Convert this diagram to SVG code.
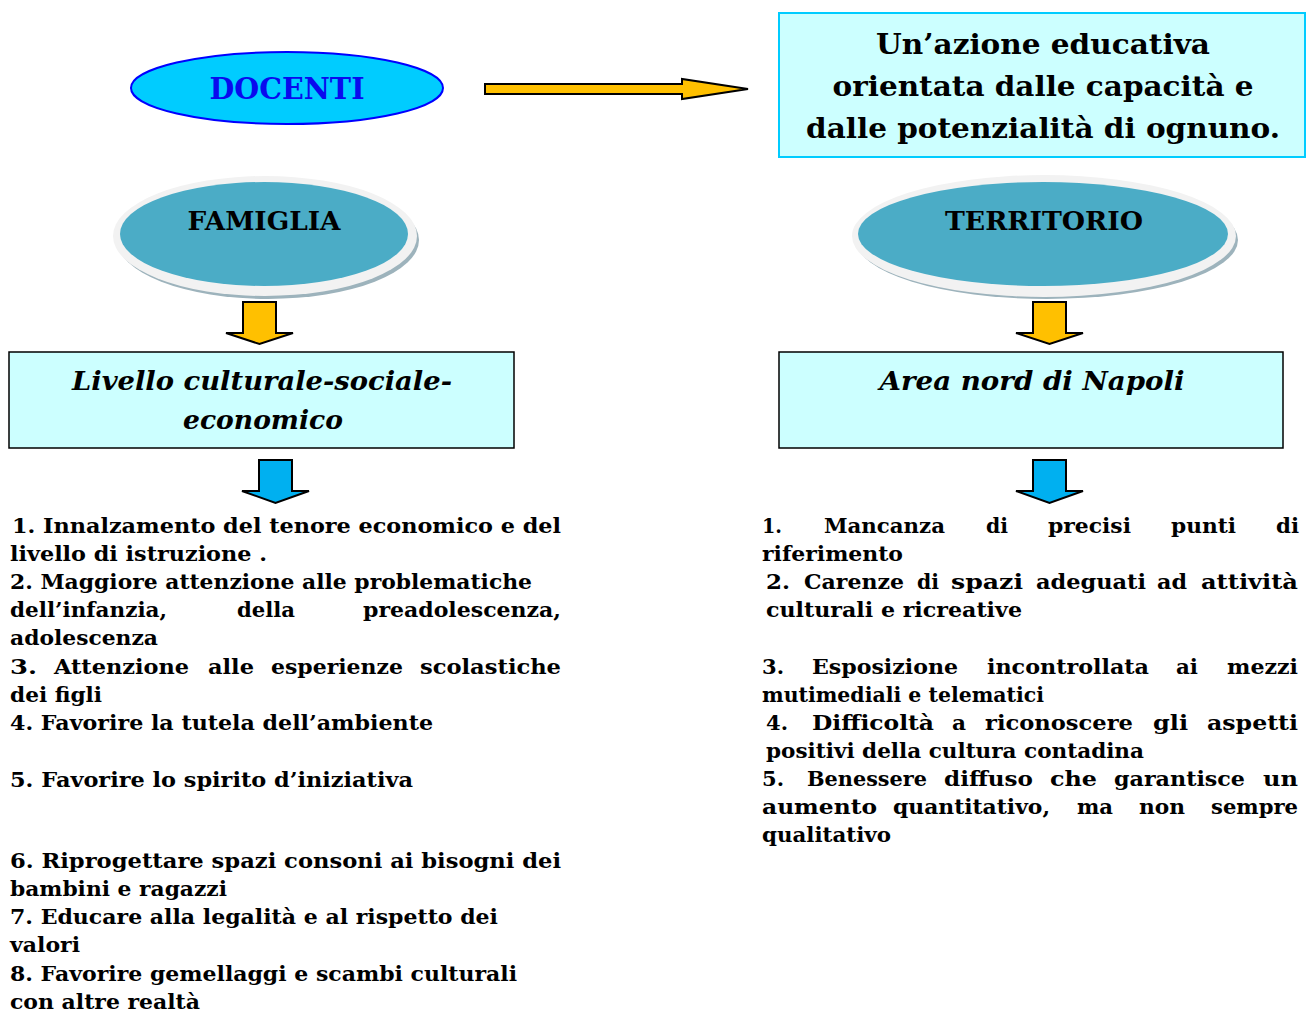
<svg xmlns="http://www.w3.org/2000/svg" width="1306" height="1015" viewBox="0 0 1306 1015">
<style>
text{font-family:"DejaVu Serif","Liberation Serif",serif;font-weight:bold;fill:#000}
.li{font-size:21px}
.hd{font-size:26px}
.it{font-size:26px;font-style:italic}
.box{fill:#CCFFFF;stroke:#000;stroke-width:1.5}
.ya{fill:#FFC000;stroke:#000;stroke-width:2;stroke-linejoin:miter}
.ba{fill:#00B0F0;stroke:#000;stroke-width:2}
.rim{fill:#F2F2F2}
.shd{fill:#9DB3BC}
.core{fill:#4BACC6}
</style>
<rect width="1306" height="1015" fill="#fff"/>

<g id="docenti">
<ellipse cx="287" cy="88" rx="156" ry="36" fill="#00CCFF" stroke="#0000FF" stroke-width="2"/>
<text x="287" y="99" text-anchor="middle" font-size="29" style="fill:#0A0AEE" textLength="155" lengthAdjust="spacingAndGlyphs">DOCENTI</text>
</g>

<g id="obiettivo">
<rect x="779" y="13" width="526" height="144" fill="#CCFFFF" stroke="#00CCFF" stroke-width="2"/>
<text x="1043" y="54" text-anchor="middle" font-size="28" textLength="334" lengthAdjust="spacingAndGlyphs">Un’azione educativa</text>
<text x="1043" y="96" text-anchor="middle" font-size="28" textLength="421" lengthAdjust="spacingAndGlyphs">orientata dalle capacità e</text>
<text x="1043" y="138" text-anchor="middle" font-size="28" textLength="474" lengthAdjust="spacingAndGlyphs">dalle potenzialità di ognuno.</text>
</g>

<g id="famiglia">
<ellipse class="shd" cx="268" cy="240" rx="151" ry="59"/>
<ellipse class="rim" cx="265" cy="236" rx="152" ry="60"/>
<ellipse class="core" cx="264" cy="234" rx="144" ry="52"/>
<text class="hd" x="264" y="230" text-anchor="middle" textLength="153" lengthAdjust="spacingAndGlyphs">FAMIGLIA</text>
</g>

<g id="territorio">
<ellipse class="shd" cx="1047" cy="240" rx="191" ry="59"/>
<ellipse class="rim" cx="1044" cy="236" rx="192" ry="61"/>
<ellipse class="core" cx="1043" cy="234" rx="185" ry="52"/>
<text class="hd" x="1044" y="230" text-anchor="middle" textLength="198" lengthAdjust="spacingAndGlyphs">TERRITORIO</text>
</g>

<g id="livello">
<rect class="box" x="9" y="352" width="505" height="96"/>
<text class="it" x="262" y="390" text-anchor="middle" textLength="380" lengthAdjust="spacingAndGlyphs">Livello culturale-sociale-</text>
<text class="it" x="263" y="429" text-anchor="middle" textLength="160" lengthAdjust="spacingAndGlyphs">economico</text>
</g>

<g id="area">
<rect class="box" x="779" y="352" width="504" height="96"/>
<text class="it" x="1032" y="390" text-anchor="middle" textLength="305" lengthAdjust="spacingAndGlyphs">Area nord di Napoli</text>
</g>

<g id="connectors">
<polygon class="ya" points="485,84 682,84 682,79 748,89 682,99 682,94 485,94"/>
<polygon class="ya" points="243,302 276,302 276,333 293,333 259.5,344 226,333 243,333"/>
<polygon class="ya" points="1033,302 1066,302 1066,333 1083,333 1049.5,344 1016,333 1033,333"/>
<polygon class="ba" points="259,460 292,460 292,491 309,491 275.5,503 242,491 259,491"/>
<polygon class="ba" points="1033,460 1066,460 1066,491 1083,491 1049.5,503 1016,491 1033,491"/>
</g>

<g id="lista-famiglia" class="li">
<text x="12" y="533" textLength="549" lengthAdjust="spacingAndGlyphs">1. Innalzamento del tenore economico e del</text>
<text x="10" y="561" textLength="257" lengthAdjust="spacingAndGlyphs">livello di istruzione .</text>
<text x="10" y="589" textLength="522" lengthAdjust="spacingAndGlyphs">2. Maggiore attenzione alle problematiche</text>
<text y="617"><tspan x="10" textLength="157" lengthAdjust="spacingAndGlyphs">dell’infanzia,</tspan><tspan x="237" textLength="58" lengthAdjust="spacingAndGlyphs">della</tspan><tspan x="363" textLength="198" lengthAdjust="spacingAndGlyphs">preadolescenza,</tspan></text>
<text x="10" y="645" textLength="148" lengthAdjust="spacingAndGlyphs">adolescenza</text>
<text y="674"><tspan x="10" textLength="27" lengthAdjust="spacingAndGlyphs">3.</tspan><tspan x="54" textLength="135" lengthAdjust="spacingAndGlyphs">Attenzione</tspan><tspan x="208" textLength="46" lengthAdjust="spacingAndGlyphs">alle</tspan><tspan x="271" textLength="132" lengthAdjust="spacingAndGlyphs">esperienze</tspan><tspan x="420" textLength="141" lengthAdjust="spacingAndGlyphs">scolastiche</tspan></text>
<text x="10" y="702" textLength="92" lengthAdjust="spacingAndGlyphs">dei figli</text>
<text x="10" y="730" textLength="423" lengthAdjust="spacingAndGlyphs">4. Favorire la tutela dell’ambiente</text>
<text x="10" y="787" textLength="403" lengthAdjust="spacingAndGlyphs">5. Favorire lo spirito d’iniziativa</text>
<text x="10" y="868" textLength="551" lengthAdjust="spacingAndGlyphs">6. Riprogettare spazi consoni ai bisogni dei</text>
<text x="10" y="896" textLength="217" lengthAdjust="spacingAndGlyphs">bambini e ragazzi</text>
<text x="10" y="924" textLength="488" lengthAdjust="spacingAndGlyphs">7. Educare alla legalità e al rispetto dei</text>
<text x="10" y="952" textLength="70" lengthAdjust="spacingAndGlyphs">valori</text>
<text x="10" y="981" textLength="507" lengthAdjust="spacingAndGlyphs">8. Favorire gemellaggi e scambi culturali</text>
<text x="10" y="1009" textLength="190" lengthAdjust="spacingAndGlyphs">con altre realtà</text>
</g>

<g id="lista-territorio" class="li">
<text y="533"><tspan x="762" textLength="20" lengthAdjust="spacingAndGlyphs">1.</tspan><tspan x="824" textLength="121" lengthAdjust="spacingAndGlyphs">Mancanza</tspan><tspan x="986" textLength="22" lengthAdjust="spacingAndGlyphs">di</tspan><tspan x="1048" textLength="83" lengthAdjust="spacingAndGlyphs">precisi</tspan><tspan x="1171" textLength="65" lengthAdjust="spacingAndGlyphs">punti</tspan><tspan x="1276" textLength="23" lengthAdjust="spacingAndGlyphs">di</tspan></text>
<text x="762" y="561" textLength="141" lengthAdjust="spacingAndGlyphs">riferimento</text>
<text y="589"><tspan x="766" textLength="24" lengthAdjust="spacingAndGlyphs">2.</tspan><tspan x="804" textLength="100" lengthAdjust="spacingAndGlyphs">Carenze</tspan><tspan x="917" textLength="22" lengthAdjust="spacingAndGlyphs">di</tspan><tspan x="951" textLength="72" lengthAdjust="spacingAndGlyphs">spazi</tspan><tspan x="1036" textLength="110" lengthAdjust="spacingAndGlyphs">adeguati</tspan><tspan x="1157" textLength="30" lengthAdjust="spacingAndGlyphs">ad</tspan><tspan x="1201" textLength="97" lengthAdjust="spacingAndGlyphs">attività</tspan></text>
<text x="766" y="617" textLength="256" lengthAdjust="spacingAndGlyphs">culturali e ricreative</text>
<text y="674"><tspan x="762" textLength="22" lengthAdjust="spacingAndGlyphs">3.</tspan><tspan x="812" textLength="146" lengthAdjust="spacingAndGlyphs">Esposizione</tspan><tspan x="987" textLength="162" lengthAdjust="spacingAndGlyphs">incontrollata</tspan><tspan x="1176" textLength="22" lengthAdjust="spacingAndGlyphs">ai</tspan><tspan x="1227" textLength="71" lengthAdjust="spacingAndGlyphs">mezzi</tspan></text>
<text x="762" y="702" textLength="282" lengthAdjust="spacingAndGlyphs">mutimediali e telematici</text>
<text y="730"><tspan x="766" textLength="22" lengthAdjust="spacingAndGlyphs">4.</tspan><tspan x="812" textLength="122" lengthAdjust="spacingAndGlyphs">Difficoltà</tspan><tspan x="952" textLength="14" lengthAdjust="spacingAndGlyphs">a</tspan><tspan x="985" textLength="148" lengthAdjust="spacingAndGlyphs">riconoscere</tspan><tspan x="1153" textLength="35" lengthAdjust="spacingAndGlyphs">gli</tspan><tspan x="1207" textLength="91" lengthAdjust="spacingAndGlyphs">aspetti</tspan></text>
<text x="766" y="758" textLength="378" lengthAdjust="spacingAndGlyphs">positivi della cultura contadina</text>
<text y="786"><tspan x="762" textLength="22" lengthAdjust="spacingAndGlyphs">5.</tspan><tspan x="807" textLength="120" lengthAdjust="spacingAndGlyphs">Benessere</tspan><tspan x="944" textLength="89" lengthAdjust="spacingAndGlyphs">diffuso</tspan><tspan x="1050" textLength="47" lengthAdjust="spacingAndGlyphs">che</tspan><tspan x="1114" textLength="131" lengthAdjust="spacingAndGlyphs">garantisce</tspan><tspan x="1263" textLength="35" lengthAdjust="spacingAndGlyphs">un</tspan></text>
<text y="814"><tspan x="762" textLength="115" lengthAdjust="spacingAndGlyphs">aumento</tspan><tspan x="893" textLength="157" lengthAdjust="spacingAndGlyphs">quantitativo,</tspan><tspan x="1077" textLength="36" lengthAdjust="spacingAndGlyphs">ma</tspan><tspan x="1139" textLength="46" lengthAdjust="spacingAndGlyphs">non</tspan><tspan x="1211" textLength="87" lengthAdjust="spacingAndGlyphs">sempre</tspan></text>
<text x="762" y="842" textLength="129" lengthAdjust="spacingAndGlyphs">qualitativo</text>
</g>
</svg>
